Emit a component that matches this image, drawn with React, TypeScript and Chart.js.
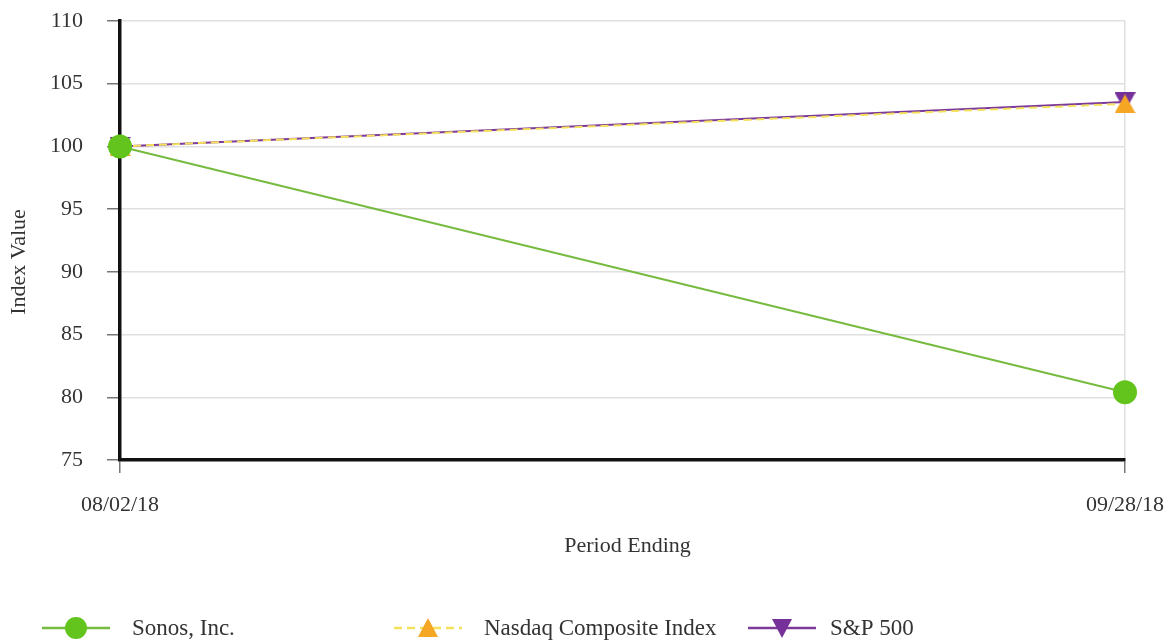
import React, { useEffect, useRef } from "react";
import { Chart, registerables } from "chart.js";

Chart.register(...registerables);

const categories = ["08/02/18", "09/28/18"];
const sonosValues = [100, 80.4];
const nasdaqValues = [100, 103.4];
const spValues = [100, 103.55];
const yTicks = [75, 80, 85, 90, 95, 100, 105, 110];
const xTitle = "Period Ending";
const yTitle = "Index Value";

const FONT = "'Liberation Serif', 'Times New Roman', serif";
const GREEN_LINE = "#76bb3f";
const GREEN_PT = "#62c41c";
const YELLOW_LINE = "#f4e15c";
const ORANGE_PT = "#f5a623";
const PURPLE_LINE = "#7d3a99";
const PURPLE_PT = "#76309a";

function triangleCanvas(color: string, down: boolean) {
  const w = 21;
  const h = 19;
  const c = document.createElement("canvas");
  c.width = w;
  c.height = h;
  const ctx = c.getContext("2d")!;
  ctx.fillStyle = color;
  ctx.beginPath();
  if (down) {
    ctx.moveTo(0, 0);
    ctx.lineTo(w, 0);
    ctx.lineTo(w / 2, h);
  } else {
    ctx.moveTo(w / 2, 0);
    ctx.lineTo(w, h);
    ctx.lineTo(0, h);
  }
  ctx.closePath();
  ctx.fill();
  return c;
}

const legendItems = [
  { label: "Sonos, Inc.", line: GREEN_LINE, point: GREEN_PT, style: "circle", dash: [] as number[], x: 42, tx: 132 },
  { label: "Nasdaq Composite Index", line: YELLOW_LINE, point: ORANGE_PT, style: "up", dash: [8, 5], x: 394, tx: 484 },
  { label: "S&P 500", line: PURPLE_LINE, point: PURPLE_PT, style: "down", dash: [] as number[], x: 748, tx: 830 },
];

const decorPlugin = {
  id: "decor",
  afterDraw(chart: any) {
    const ctx = chart.ctx;
    const area = chart.chartArea;
    ctx.save();
    ctx.fillStyle = "#333";
    ctx.font = `22px ${FONT}`;
    ctx.textAlign = "center";
    ctx.textBaseline = "middle";
    ctx.fillText(xTitle, (area.left + area.right) / 2 + 5, 546);
    ctx.save();
    ctx.translate(19, 262);
    ctx.rotate(-Math.PI / 2);
    ctx.fillText(yTitle, 0, 0);
    ctx.restore();

    const y = 628;
    for (const it of legendItems) {
      ctx.strokeStyle = it.line;
      ctx.lineWidth = 2.5;
      ctx.setLineDash(it.dash);
      ctx.beginPath();
      ctx.moveTo(it.x, y);
      ctx.lineTo(it.x + 68, y);
      ctx.stroke();
      ctx.setLineDash([]);
      const cx = it.x + 34;
      ctx.fillStyle = it.point;
      ctx.beginPath();
      if (it.style === "circle") {
        ctx.arc(cx, y, 11, 0, Math.PI * 2);
      } else if (it.style === "up") {
        ctx.moveTo(cx, y - 10);
        ctx.lineTo(cx + 10, y + 9);
        ctx.lineTo(cx - 10, y + 9);
        ctx.closePath();
      } else {
        ctx.moveTo(cx, y + 10);
        ctx.lineTo(cx + 10, y - 9);
        ctx.lineTo(cx - 10, y - 9);
        ctx.closePath();
      }
      ctx.fill();
      ctx.fillStyle = "#333";
      ctx.font = `23px ${FONT}`;
      ctx.textBaseline = "middle";
      ctx.textAlign = "left";
      ctx.fillText(it.label, it.tx, y + 1);
    }
    ctx.restore();
  },
};

function zeroPad(scale: any) {
  scale.paddingTop = 0;
  scale.paddingBottom = 0;
  scale.paddingLeft = 0;
  scale.paddingRight = 0;
}

export default function App() {
  const ref = useRef<HTMLCanvasElement>(null);
  useEffect(() => {
    if (!ref.current) return;
    const upTri = triangleCanvas(ORANGE_PT, false);
    const downTri = triangleCanvas(PURPLE_PT, true);
    const chart = new Chart(ref.current, {
      type: "line",
      data: {
        labels: categories,
        datasets: [
          {
            label: "Sonos, Inc.",
            data: sonosValues,
            borderColor: GREEN_LINE,
            backgroundColor: GREEN_PT,
            pointBackgroundColor: GREEN_PT,
            pointBorderColor: GREEN_PT,
            borderWidth: 2,
            pointRadius: 11,
            pointStyle: "circle",
          },
          {
            label: "Nasdaq Composite Index",
            data: nasdaqValues,
            borderColor: YELLOW_LINE,
            backgroundColor: ORANGE_PT,
            borderWidth: 2,
            borderDash: [8, 5],
            pointRadius: 10,
            pointStyle: upTri as any,
          },
          {
            label: "S&P 500",
            data: spValues,
            borderColor: PURPLE_LINE,
            backgroundColor: PURPLE_PT,
            borderWidth: 2,
            pointRadius: 10,
            pointStyle: downTri as any,
          },
        ],
      },
      options: {
        animation: false,
        responsive: true,
        maintainAspectRatio: false,
        layout: { padding: { top: 21, right: 46, left: 0, bottom: 0 } },
        plugins: {
          legend: { display: false },
          tooltip: { enabled: false },
        },
        scales: {
          x: {
            offset: false,
            grid: { color: "#e0e0e0", lineWidth: 1.5, tickColor: "#777", tickLength: 13, tickWidth: 1.5 },
            border: { color: "#111", width: 3.5 },
            ticks: { font: { family: FONT, size: 22 }, color: "#333", padding: 19, maxRotation: 0 },
            afterFit: (scale: any) => {
              scale.height = 184;
              zeroPad(scale);
            },
          },
          y: {
            min: 75,
            max: 110,
            afterBuildTicks: (scale: any) => {
              scale.ticks = yTicks.map((v) => ({ value: v }));
            },
            grid: { color: "#e0e0e0", lineWidth: 1.5, tickColor: "#777", tickLength: 13, tickWidth: 1.5 },
            border: { color: "#111", width: 3.5 },
            ticks: { font: { family: FONT, size: 22 }, color: "#333", padding: 24 },
            afterFit: (scale: any) => {
              scale.width = 120;
              zeroPad(scale);
            },
          },
        },
      },
      plugins: [decorPlugin],
    });
    return () => chart.destroy();
  }, []);
  return (
    <div style={{ position: "absolute", left: 0, top: 0, width: 1171, height: 644, background: "#fff" }}>
      <canvas ref={ref} />
    </div>
  );
}
